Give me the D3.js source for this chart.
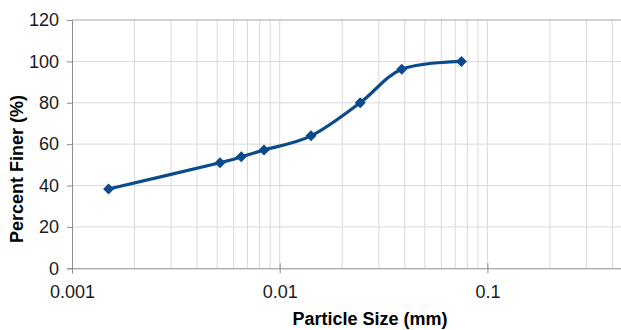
<!DOCTYPE html>
<html>
<head>
<meta charset="utf-8">
<script src="https://cdn.jsdelivr.net/npm/d3@7"></script>
<style>
  html, body { margin: 0; padding: 0; background: #fff; }
  svg { display: block; font-family: "Liberation Sans", Arial, Helvetica, sans-serif; }
</style>
</head>
<body>
<svg id="chart" width="621" height="330"></svg>
<script>
// Data
const particleSize = [0.0015, 0.00516, 0.00653, 0.0084, 0.01415, 0.0244, 0.0387, 0.075];
const percentFiner = [38.3, 51.0, 53.9, 57.2, 64.0, 80.0, 96.2, 100.0];
const xTickValues = [0.001, 0.01, 0.1];
const xTickLabels = ["0.001", "0.01", "0.1"];
const yTickValues = [0, 20, 40, 60, 80, 100, 120];
const xTitle = "Particle Size (mm)";
const yTitle = "Percent Finer (%)";

(function () {
const svg = d3.select("#chart");
const mLeft = 72, mTop = 20, mBottom = 268.3;
const decade = 207.7;

const x = d3.scaleLog().domain([0.001, 1]).range([mLeft, mLeft + 3 * decade]);
const y = d3.scaleLinear().domain([0, 120]).range([mBottom, mTop]);

// Vertical gridlines (minor log ticks)
const vGrid = [];
[0.001, 0.01, 0.1].forEach(d => { for (let k = 1; k <= 9; k++) vGrid.push(d * k); });
vGrid.push(1);
svg.append("g").selectAll("line").data(vGrid.filter(v => v > 0.001)).join("line")
  .attr("x1", d => x(d)).attr("x2", d => x(d))
  .attr("y1", y(120)).attr("y2", y(0))
  .attr("stroke", "#d9d9d9").attr("stroke-width", 1);

// Horizontal gridlines
svg.append("g").selectAll("line").data(yTickValues.filter(v => v > 0 && v < 120)).join("line")
  .attr("x1", mLeft).attr("x2", 700)
  .attr("y1", d => y(d)).attr("y2", d => y(d))
  .attr("stroke", "#d9d9d9").attr("stroke-width", 1);

// Top border
svg.append("line").attr("x1", mLeft).attr("x2", 700)
  .attr("y1", y(120)).attr("y2", y(120))
  .attr("stroke", "#a6a6a6").attr("stroke-width", 1.2);

// Y axis
const yAxis = d3.axisLeft(y).tickValues(yTickValues).tickSize(5).tickPadding(8);
const gy = svg.append("g").attr("transform", `translate(${mLeft},0)`).call(yAxis);
gy.select(".domain").attr("stroke", "#8c8c8c");
gy.selectAll(".tick line").attr("stroke", "#8c8c8c");
gy.selectAll(".tick text").attr("fill", "#1a1a1a").style("font-size", "18px")
  .style("font-family", "'Liberation Sans', Arial, sans-serif");

// X axis
const xAxis = d3.axisBottom(x).tickValues(xTickValues)
  .tickFormat((d, i) => xTickLabels[i]).tickSize(5).tickPadding(12);
const gx = svg.append("g").attr("transform", `translate(0,${mBottom})`).call(xAxis);
gx.select(".domain").attr("stroke", "#8c8c8c");
gx.selectAll(".tick line").attr("stroke", "#8c8c8c").attr("y1", -5);
gx.selectAll(".tick text").attr("fill", "#1a1a1a").style("font-size", "18px")
  .style("font-family", "'Liberation Sans', Arial, sans-serif");

// Line
const pts = particleSize.map((d, i) => [d, percentFiner[i]]);
const line = d3.line().x(d => x(d[0])).y(d => y(d[1])).curve(d3.curveCardinal.tension(0));
svg.append("path").datum(pts).attr("d", line)
  .attr("fill", "none").attr("stroke", "#0b4a8b").attr("stroke-width", 3.2)
  .attr("stroke-linejoin", "round");

// Markers
svg.append("g").selectAll("path").data(pts).join("path")
  .attr("transform", d => `translate(${x(d[0])},${y(d[1])})`)
  .attr("d", "M0,-5.5L5.5,0L0,5.5L-5.5,0Z")
  .attr("fill", "#0b4a8b");

// Titles
svg.append("text").attr("x", 370).attr("y", 325)
  .attr("text-anchor", "middle").style("font-size", "18px").style("font-weight", "bold")
  .attr("fill", "#000").text(xTitle);
svg.append("text").attr("transform", "translate(23,169) rotate(-90)")
  .attr("text-anchor", "middle").style("font-size", "18px").style("font-weight", "bold")
  .attr("fill", "#000").text(yTitle);
})();
</script>
</body>
</html>
